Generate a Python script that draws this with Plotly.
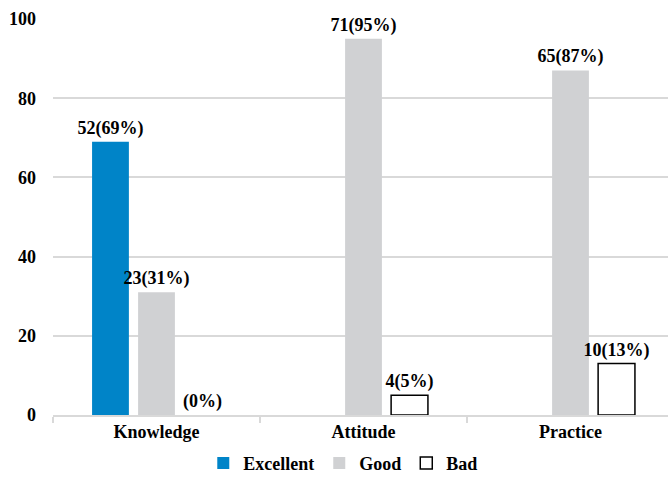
import plotly.graph_objects as go

categories = ["Knowledge", "Attitude", "Practice"]
series_names = ["Excellent", "Good", "Bad"]
excellent_pct = [69, 0, 0]
good_pct = [31, 95, 87]
bad_pct = [0, 5, 13]
excellent_labels = ["52(69%)", "", ""]
good_labels = ["23(31%)", "71(95%)", "65(87%)"]
bad_labels = ["(0%)", "4(5%)", "10(13%)"]
y_ticks = [0, 20, 40, 60, 80, 100]

FONT = "Times New Roman, Liberation Serif, Times, serif"
font_bold = dict(family=FONT, size=18, color="black")
text_style = dict(textposition="outside", cliponaxis=False, constraintext="none",
                  textfont=dict(family=FONT, size=18, color="black"),
                  texttemplate="<b>%{text}</b>")

fig = go.Figure()
fig.add_trace(go.Bar(name="<b>%s</b>" % series_names[0], x=categories, y=excellent_pct,
                     offsetgroup="a", legendgroup="a", text=excellent_labels,
                     marker=dict(color="#0084C8", line=dict(width=0)), **text_style))
fig.add_trace(go.Bar(name="<b>%s</b>" % series_names[1], x=categories, y=good_pct,
                     offsetgroup="g", legendgroup="g", text=good_labels,
                     marker=dict(color="#D0D1D3", line=dict(width=0)), **text_style))
fig.add_trace(go.Bar(name="<b>%s</b>" % series_names[2], x=categories, y=bad_pct,
                     offsetgroup="b", legendgroup="b", text=bad_labels, showlegend=False,
                     marker=dict(color="white",
                                 line=dict(color="black",
                                           width=[0 if v == 0 else 1.5 for v in bad_pct])),
                     **text_style))
# legend entry for the outlined "Bad" series (no data of its own)
fig.add_trace(go.Bar(name="<b>%s</b>" % series_names[2], x=[categories[0]], y=[None],
                     offsetgroup="b", legendgroup="b", showlegend=True, hoverinfo="skip",
                     marker=dict(color="white", line=dict(color="black", width=1.5))))

fig.update_layout(
    width=668, height=482,
    margin=dict(l=53, r=0, t=19, b=67),
    paper_bgcolor="white", plot_bgcolor="white",
    barmode="group", bargap=0.333, bargroupgap=0.2,
    font=font_bold,
    showlegend=True,
    legend=dict(orientation="h", x=0.472, xanchor="center", y=-0.075, yanchor="top",
                font=dict(family=FONT, size=18, color="black"),
                traceorder="normal", itemwidth=30),
)
fig.update_xaxes(
    range=[-0.5, 2.471], showgrid=False, showline=True, linecolor="#D9D9D9", linewidth=1.5,
    ticks="outside", tickson="boundaries", ticklen=6, tickcolor="#D9D9D9", tickwidth=1.5,
    tickfont=dict(family=FONT, size=18, color="black"),
    tickvals=categories, ticktext=["<b>%s</b>" % c for c in categories],
)
fig.update_yaxes(
    range=[0, 100], tickvals=y_ticks, ticktext=["<b>%d</b>" % v for v in y_ticks],
    showgrid=True, gridcolor="#D9D9D9", gridwidth=1.5, zeroline=False,
    showline=False, ticks="", ticklabelstandoff=16,
    tickfont=dict(family=FONT, size=18, color="black"),
)

fig.write_html("out.html")
